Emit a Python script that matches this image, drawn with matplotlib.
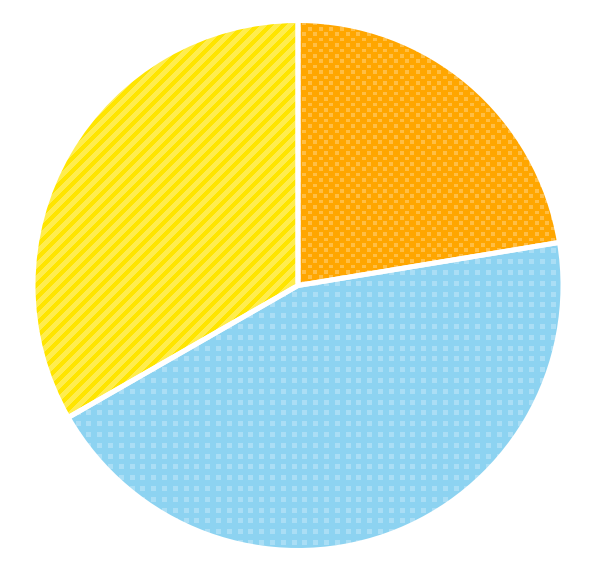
import matplotlib
matplotlib.use('Agg')
import matplotlib.pyplot as plt
from matplotlib.patches import PathPatch
import numpy as np

# slice values (percent)
labels = ['Orange', 'Blue', 'Yellow']
values = [22.4, 44.3, 33.3]

# styling
base_colors = ['#FFA600', '#8DD3F1', '#FFE500']
light_colors = ['#FFBE45', '#AADEF5', '#FFED4E']

W, H = 601, 563
cx, cy, radius = 298, H - 285.5, 265

fig = plt.figure(figsize=(W / 100, H / 100), dpi=100)
ax = fig.add_axes([0, 0, 1, 1])

wedges, _ = ax.pie(values, colors=base_colors, startangle=90, counterclock=False,
                   center=(cx, cy), radius=radius, frame=True,
                   wedgeprops=dict(linewidth=0))

# pixel grid for the fill patterns (row 0 = top)
yy, xx = np.mgrid[0:H, 0:W] + 0.5


def to_rgb(c):
    return np.array(matplotlib.colors.to_rgb(c))


def make_pattern(mask, base, light):
    img = np.empty((H, W, 3))
    img[:] = to_rgb(base)
    img[mask] = to_rgb(light)
    return img


# orange: staggered dots
row = np.floor(yy / 5.4)
shift = (row % 2) * 5.4
dots_orange = (((xx + shift) % 10.8) < 4) & ((yy % 5.4) < 3.6)
# blue: square grid of dots
dots_blue = ((xx % 10.8) < 5) & ((yy % 10.8) < 5)
# yellow: diagonal stripes
stripes = ((xx + yy) % 13) < 6.5

masks = [dots_orange, dots_blue, stripes]

for w, m, b, l in zip(wedges, masks, base_colors, light_colors):
    im = ax.imshow(make_pattern(m, b, l), extent=(0, W, 0, H),
                   interpolation='bilinear', zorder=2)
    im.set_clip_path(w)
    ax.add_patch(PathPatch(w.get_path(), transform=w.get_transform(),
                           fill=False, edgecolor='white', linewidth=3.6,
                           joinstyle='round', zorder=3))

ax.set_xlim(0, W)
ax.set_ylim(0, H)
ax.set_aspect('equal')
ax.axis('off')

fig.savefig('out.png', dpi=100, facecolor='white')
